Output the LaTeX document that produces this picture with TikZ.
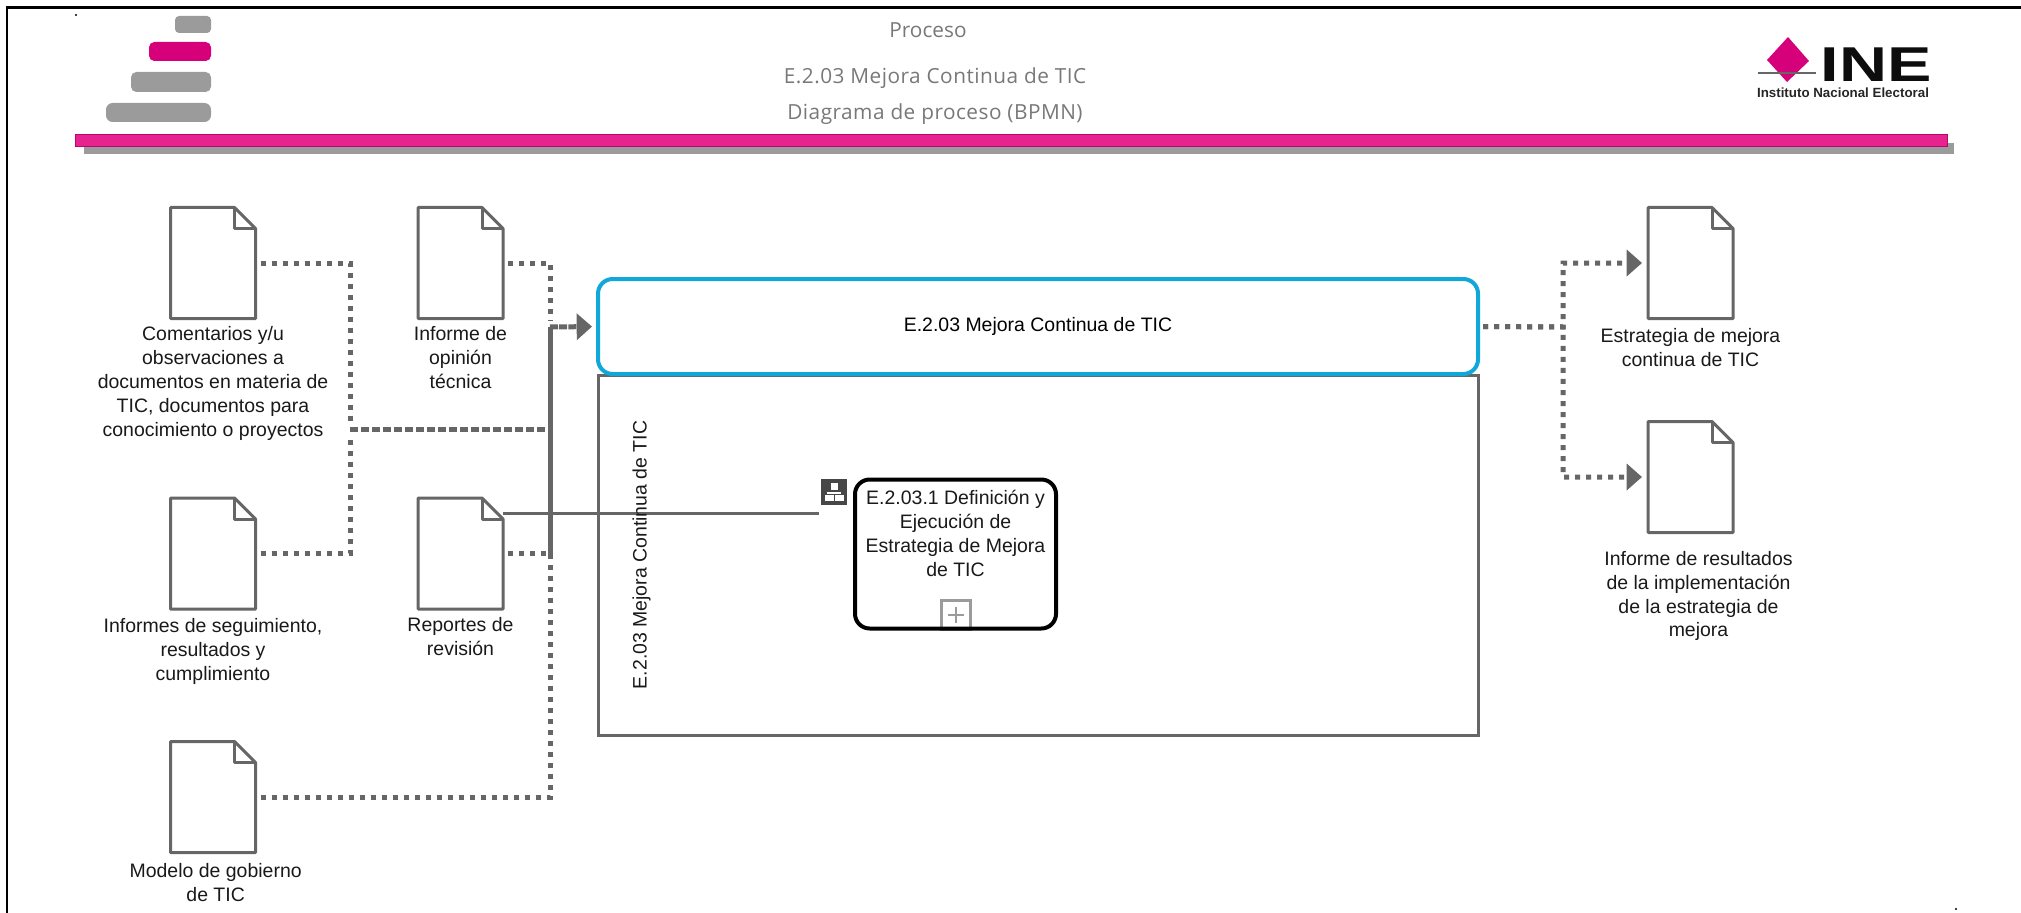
\documentclass[tikz,border=0pt]{standalone}
\usepackage{fontspec}
\setmainfont{Liberation Sans}
\newfontfamily\titlefont{Open Sans}
\usetikzlibrary{arrows.meta, positioning, calc}
\definecolor{inepink}{HTML}{D6007B}
\definecolor{barpink}{HTML}{E6238F}
\definecolor{barline}{HTML}{B5076F}
\definecolor{stepgray}{HTML}{9B9B9B}
\definecolor{linegray}{HTML}{666666}
\definecolor{titlegray}{HTML}{787878}
\definecolor{laneblue}{HTML}{0FA8D8}
\tikzset{
  docnode/.style={rectangle, inner sep=0, outer sep=0, minimum width=63.75pt, minimum height=83.25pt},
  docline/.style={draw=linegray, line width=2.25pt, line join=round},
  doclabel/.style={align=center, font=\fontsize{14.6}{17.9}\selectfont, text=black!90},
  flowdot/.style={draw=linegray, line width=3.75pt, dash pattern=on 3.75pt off 4.5pt,
    shorten <=3.75pt, shorten >=4.5pt},
  flowtip/.style={flowdot, -{Triangle[width=19.5pt, length=11.5pt]}},
  flowbus/.style={flowdot, dash pattern=on 6.9pt off 1.35pt, shorten <=0pt, shorten >=0pt},
  flowpair/.style={flowdot, dash pattern=on 6pt off 2.25pt, shorten <=0pt, shorten >=0pt},
  titletext/.style={font=\titlefont\fontsize{15.6}{18}\selectfont, text=titlegray},
  titlewide/.style={titletext, font=\titlefont\fontsize{15.6}{18}\selectfont\addfontfeature{LetterSpace=2.3}},
  taskbox/.style={rectangle, draw=black, line width=3pt, rounded corners=11pt, outer sep=0,
    minimum width=150.75pt, minimum height=111.75pt}
}
\begin{document}
\begin{tikzpicture}[x=0.75pt, y=-0.75pt]
  \useasboundingbox (0,0) rectangle (2021,913);

  % Frame
  \draw[black, line width=1.9pt] (7,913) -- (7,7.5) -- (2021,7.5);
  \fill[black] (76,15) circle (0.8pt);
  \fill[black] (1956,909) circle (0.8pt);

  % Header steps
  \fill[stepgray, rounded corners=3pt] (175,16) rectangle (211,33);
  \fill[inepink, rounded corners=4pt] (149,42) rectangle (211,61);
  \fill[stepgray, rounded corners=4pt] (131,72) rectangle (211,92);
  \fill[stepgray, rounded corners=5pt] (106,103) rectangle (211,122);

  % Header bar
  \fill[stepgray] (84,143) rectangle (1954,154);
  \draw[draw=barline, fill=barpink, line width=1.1pt] (75.7,134.7) rectangle (1947.3,146.7);

  % Header titles
  \node[titletext] (titleA) at (928,30) {Proceso};
  \node[titlewide] (titleB) at (935,78) {E.2.03 Mejora Continua de TIC};
  \node[titlewide] (titleC) at (935,114) {Diagrama de proceso (BPMN)};

  % Logo
  \fill[inepink] (1788,37) -- (1809,61) -- (1787,82) -- (1767,60) -- cycle;
  \draw[linegray, line width=0.9pt] (1758,73) -- (1816,73);
  \node[font=\bfseries\fontsize{36.7}{36.7}\selectfont, xscale=1.36, inner sep=0, text=black!95] (logoA) at (1876,64.5) {INE};
  \node[font=\bfseries\fontsize{10}{12}\selectfont, inner sep=0, text=black!85] (logoB) at (1843,93) {Instituto Nacional Electoral};

  % Lane
  \draw[linegray, line width=2.25pt] (598,375) rectangle (1478,735);
  \node[rectangle, draw=laneblue, fill=white, line width=3pt, rounded corners=11pt, outer sep=0,
    minimum width=660pt, minimum height=71.25pt, font=\fontsize{14.6}{17.9}\selectfont] (inbox) at (1038,326.5) {E.2.03 Mejora Continua de TIC};

  % Documents
  \node[docnode] (docA) at (213,263) {};
  \node[docnode] (docB) at (460.5,263) {};
  \node[docnode] (docC) at (213,553.5) {};
  \node[docnode] (docD) at (460.5,553.5) {};
  \node[docnode] (docE) at (213,797) {};
  \node[docnode] (docF) at (1690.5,263) {};
  \node[docnode] (docG) at (1690.5,477) {};
  \foreach \n in {docA,docB,docC,docD,docE,docF,docG} {
    \draw[docline] (\n.north west) -- ($(\n.north east)+(-21,0)$) -- ($(\n.north east)+(0,21)$)
      -- (\n.south east) -- (\n.south west) -- cycle;
    \draw[docline] ($(\n.north east)+(-21,0)$) -- ($(\n.north east)+(-21,21)$) -- ($(\n.north east)+(0,21)$);
  }

  % Document labels
  \node[doclabel, below=2.5pt of docA] (labelA) {Comentarios y/u\\observaciones a\\documentos en materia de\\TIC, documentos para\\conocimiento o proyectos};
  \node[doclabel, below=2.5pt of docB] (labelB) {Informe de\\opinión\\técnica};
  \node[doclabel, below=3.5pt of docC] (labelC) {Informes de seguimiento,\\resultados y\\cumplimiento};
  \node[doclabel, below=3pt of docD] (labelD) {Reportes de\\revisión};
  \node[doclabel, below=5pt of docE, xshift=2pt] (labelE) {Modelo de gobierno\\de TIC};
  \node[doclabel, below=4pt of docF] (labelF) {Estrategia de mejora\\continua de TIC};
  \node[doclabel, below=10.5pt of docG, xshift=6pt] (labelG) {Informe de resultados\\de la implementación\\de la estrategia de\\mejora};

  % Junctions
  \coordinate (busL) at (350,429);
  \coordinate (busR) at (550,327);
  \coordinate (busO) at (1563,327);

  % Inputs
  \draw[flowdot] (docA.east) -| (busL);
  \draw[flowdot] (docC.east) -| (busL);
  \draw[flowpair] (busL) -- (busL -| busR);
  \draw[flowdot] (docB.east) -| (busR);
  \draw[flowdot] (docD.east) -| (busR);
  \draw[flowdot] (docE.east) -| (busR);
  \draw[flowbus] (busR) -- (busR |- docD);
  \draw[flowtip, dash pattern=on 6pt off 0.9pt, shorten <=0pt] (busR) -- (inbox.west);

  % Outputs
  \draw[flowtip] (inbox.east) -- (busO) |- (docF.west);
  \draw[flowtip] (inbox.east) -- (busO) |- (docG.west);

  % Subprocess
  \node[rectangle, fill=black!72, minimum size=19.5pt, inner sep=0, outer sep=0] (subIcon) at (834,491.5) {};
  \fill[white] ($(subIcon.center)+(-3.5,-8.7)$) rectangle ($(subIcon.center)+(3.5,-1.3)$);
  \fill[white] ($(subIcon.center)+(-7,0.3)$) rectangle ($(subIcon.center)+(7,2)$);
  \fill[white] ($(subIcon.center)+(-8.7,3.7)$) rectangle ($(subIcon.center)+(-0.3,9.3)$);
  \fill[white] ($(subIcon.center)+(1.3,3.7)$) rectangle ($(subIcon.center)+(9.7,9.3)$);
  \coordinate (iconFoot) at (819,513);
  \draw[linegray, line width=2.25pt] ($(docD.north east)+(0,15)$) -- (iconFoot);
  \node[rectangle, draw=stepgray, line width=2.25pt, minimum size=22pt, inner sep=0, outer sep=0] (plusA) at (956,615) {};
  \draw[stepgray, line width=1.1pt] ($(plusA.center)+(-8,0)$) -- ($(plusA.center)+(8,0)$);
  \draw[stepgray, line width=1.1pt] ($(plusA.center)+(0,-8)$) -- ($(plusA.center)+(0,8)$);
  \node[taskbox] (taskA) at (955.5,554) {};
  \node[doclabel] (taskText) at (955.5,533.5) {E.2.03.1 Definición y\\Ejecución de\\Estrategia de Mejora\\de TIC};

  % Lane title
  \node[doclabel, rotate=90] (laneText) at (641.5,555) {E.2.03 Mejora Continua de TIC};
\end{tikzpicture}
\end{document}
